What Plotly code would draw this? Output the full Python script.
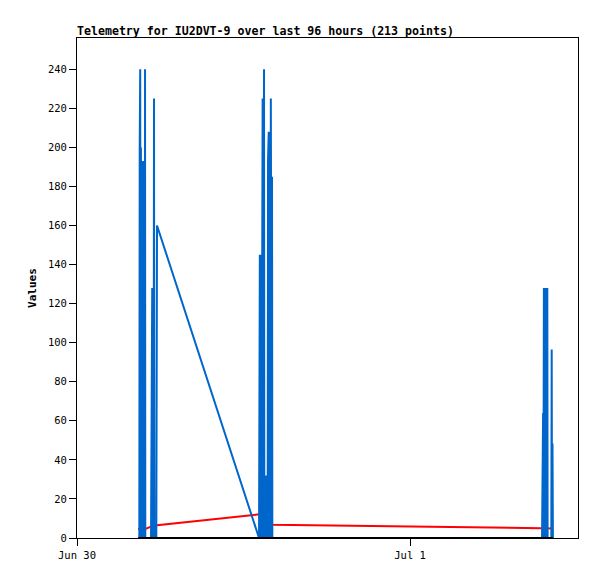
import pandas as pd
import plotly.graph_objects as go

BASE = "2024-06-30 00:00"

# minutes after Jun 30 00:00 for each telemetry packet
minutes = [
    264.5,
    269.4, 271.1, 272.4, 273.3, 274.6, 276.3, 277.6, 279.3, 280.6, 282.4,
    283.7, 285.4, 286.7, 288.4, 289.7, 291.5, 292.8, 294.1, 295.3,
    320.0, 321.7, 323.0, 325.2, 326.5, 331.2, 333.0, 334.3, 342.9, 345.9,
    787.0, 790.5, 791.8, 793.5, 794.8, 796.5, 797.8, 799.6, 800.9, 802.6,
    803.9, 805.6, 806.9, 808.6, 809.9, 812.1, 813.4, 815.1, 816.4, 818.2,
    819.5, 824.2, 825.9, 827.2, 829.0, 830.3, 832.0, 833.3, 835.0, 836.3,
    838.0, 839.3, 840.6, 842.0, 843.2, 844.5,
    2010.5, 2012.1,
    2013.4, 2015.1, 2016.4, 2018.6, 2019.9, 2021.6, 2022.9, 2024.6, 2025.9,
    2027.7, 2029.0, 2030.7, 2032.0, 2033.3, 2034.6, 2050.6, 2052.3, 2053.6,
    2055.7, 2057.5,
]

blue_values = [
    0,
    0, 200, 0, 240, 0, 200, 0, 193, 0, 193,
    0, 193, 0, 193, 0, 193, 0, 240, 0,
    0, 80, 0, 128, 0, 0, 225, 0, 0, 160,
    0, 145, 0, 145, 0, 145, 0, 225, 0, 225,
    0, 225, 0, 240, 0, 32, 0, 32, 0, 32,
    0, 0, 193, 0, 208, 0, 208, 0, 208, 0,
    225, 0, 225, 0, 185, 0,
    0, 64,
    0, 64, 0, 128, 0, 128, 0, 128, 0,
    128, 0, 128, 0, 128, 0, 0, 96.5, 0,
    48.4, 0,
]

red_values = [
    4.6,
    4.6, 4.6, 4.6, 4.6, 4.6, 4.6, 4.6, 4.6, 4.6, 4.6,
    4.6, 4.6, 4.6, 4.6, 4.6, 4.6, 4.6, 4.6, 4.6,
    5.8, 5.8, 5.8, 5.8, 5.8, 6.0, 6.0, 6.0, 6.4, 6.5,
    12.1, 12.1, 12.1, 12.1, 12.1, 12.0, 12.0, 12.0, 12.0, 12.0,
    12.0, 12.0, 12.0, 12.0, 12.0, 7.0, 7.0, 7.0, 7.0, 7.0,
    7.0, 6.9, 6.9, 6.9, 6.9, 6.9, 6.9, 6.9, 6.9, 6.9,
    6.9, 6.9, 6.8, 6.8, 6.8, 6.8,
    5.0, 5.0,
    5.0, 5.0, 5.0, 5.0, 5.0, 5.0, 5.0, 5.0, 5.0,
    5.0, 5.0, 4.9, 4.9, 4.9, 4.9, 4.9, 4.9, 4.9,
    4.9, 4.9,
]

black_values = [0] * len(minutes)

x_tick_dates = ["2024-06-30", "2024-07-01"]
x_tick_labels = ["Jun 30", "Jul 1"]
x_range = ["2024-06-30 00:00", "2024-07-01 12:06"]
y_range = [0, 256]

times = pd.Timestamp(BASE) + pd.to_timedelta(minutes, unit="min")

fig = go.Figure()
fig.add_trace(go.Scatter(x=times, y=red_values, mode="lines",
                         line=dict(color="#ff0000", width=2), name="red"))
fig.add_trace(go.Scatter(x=times, y=blue_values, mode="lines",
                         line=dict(color="#0066cc", width=2), name="blue"))
fig.add_trace(go.Scatter(x=times, y=black_values, mode="lines",
                         line=dict(color="#000000", width=2), name="black"))

mono = "DejaVu Sans Mono"
W, H = 589, 571
fig.update_layout(
    width=W, height=H,
    margin=dict(l=69, r=19, t=30, b=41),
    paper_bgcolor="white", plot_bgcolor="white",
    showlegend=False,
    title=dict(text="<b>Telemetry for IU2DVT-9 over last 96 hours (213 points)</b>",
               font=dict(family=mono, size=11.6, color="black"),
               x=0, xref="paper", xanchor="left",
               y=1 - 23 / H, yref="container", yanchor="middle"),
)
fig.update_xaxes(
    type="date", range=x_range,
    tickvals=x_tick_dates, ticktext=x_tick_labels,
    ticks="outside", ticklen=7, tickcolor="black", tickwidth=1,
    showline=True, linecolor="black", linewidth=1, mirror=True,
    showgrid=False, zeroline=False,
    tickfont=dict(family=mono, size=10.5, color="black"),
)
fig.update_yaxes(
    range=y_range, tick0=0, dtick=20,
    ticks="outside", ticklen=7, tickcolor="black", tickwidth=1,
    showline=True, linecolor="black", linewidth=1, mirror=True,
    showgrid=False, zeroline=False,
    tickfont=dict(family=mono, size=10.5, color="black"),
    title=dict(text="<b>Values</b>", font=dict(family=mono, size=11, color="black"),
               standoff=9),
)

fig.write_html("out.html")
